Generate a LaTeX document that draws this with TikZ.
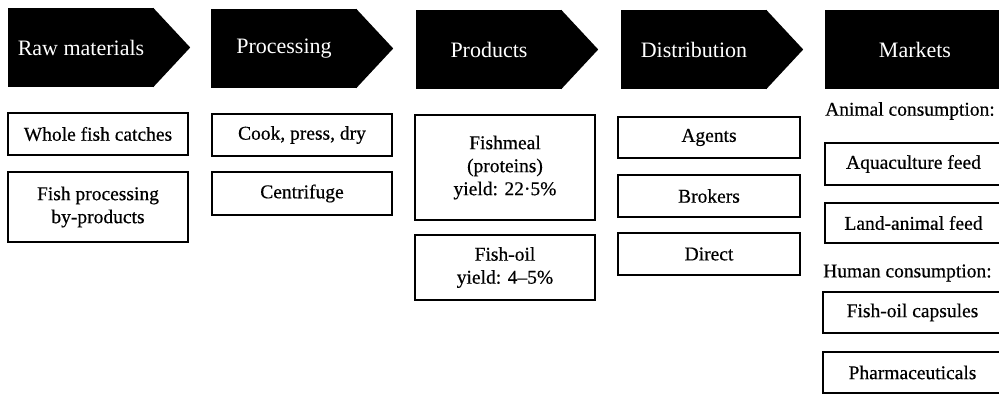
\documentclass[tikz,border=0pt]{standalone}
\usepackage{fontspec}
\setmainfont{Liberation Serif}
\newfontfamily\boxfont[FakeBold=0.5]{Liberation Serif}
\usetikzlibrary{calc}
\begin{document}
\begin{tikzpicture}[x=1pt,y=-1pt,
  stage/.style={fill=black, text=white, minimum width=146pt, minimum height=79pt,
    inner sep=0pt, font=\fontsize{22}{25}\selectfont},
  itembox/.style={draw=black, line width=1.6pt, minimum width=180pt, inner sep=0pt,
    align=center, font=\boxfont\fontsize{19.5}{23}\selectfont},
  grouplabel/.style={anchor=west, inner sep=0pt, font=\boxfont\fontsize{19.5}{23}\selectfont}]
\useasboundingbox (0,0) rectangle (999,395);
\clip (0,0) rectangle (999,395);

% stage headers (arrow-shaped)
\node[stage] (s1) at (81,47.5) {Raw materials};
\node[stage] (s2) at (284,48.5) {Processing};
\node[stage] (s3) at (489,49.5) {Products};
\node[stage] (s4) at (694,49.5) {Distribution};
\node[stage, minimum width=180pt] (s5) at (915,49.5) {Markets};
\foreach \s in {s1,s2,s3,s4}{
  \fill[black] ($(\s.north east)+(-1,0)$) -- ($(\s.east)+(36,0)$) -- ($(\s.south east)+(-1,0)$) -- cycle;
}

% raw materials
\node[itembox, minimum height=42pt] (wfc) at (98,134) {Whole fish catches};
\node[itembox, minimum height=70pt] (fpb) at (98,207) {Fish processing\\by-products};

% processing
\node[itembox, minimum height=42pt] (cpd) at (302,135) {Cook, press, dry};
\node[itembox, minimum height=43pt] (cen) at (302,193.5) {Centrifuge};

% products
\node[itembox, minimum height=105pt] (fm) at (505,167.5) {Fishmeal\\(proteins)\\yield: 22·5\%};
\node[itembox, minimum height=65pt] (fo) at (505,267.5) {Fish-oil\\yield: 4–5\%};

% distribution
\node[itembox, minimum width=182pt, minimum height=41pt] (ag) at (709,137.5) {Agents};
\node[itembox, minimum width=182pt, minimum height=42pt] (br) at (709,196) {Brokers};
\node[itembox, minimum width=182pt, minimum height=42pt] (di) at (709,254) {Direct};

% markets
\node[grouplabel] (anl) at (825,111) {Animal consumption:};
\node[itembox, minimum width=177pt, minimum height=42pt] (aq) at (913.5,164) {Aquaculture feed};
\node[itembox, minimum width=177pt, minimum height=40pt] (la) at (913.5,223) {Land-animal feed};
\node[grouplabel] (hul) at (823,273) {Human consumption:};
\node[itembox, minimum width=179pt, minimum height=41pt] (fc) at (912.5,312.5) {Fish-oil capsules};
\node[itembox, minimum width=179pt, minimum height=41pt] (ph) at (912.5,372.5) {Pharmaceuticals};
\end{tikzpicture}
\end{document}
